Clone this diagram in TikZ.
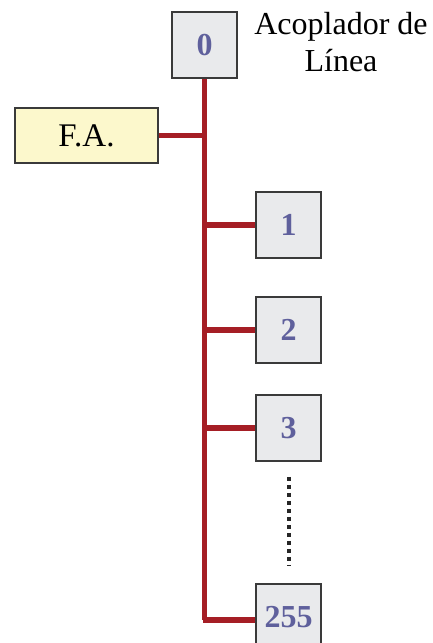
\documentclass[tikz,border=0pt]{standalone}
\usepackage{fontspec}
\setmainfont{Liberation Serif}
\usetikzlibrary{calc,positioning,backgrounds}
\definecolor{busred}{HTML}{A51E25}
\definecolor{boxgray}{HTML}{E9EAEC}
\definecolor{boxline}{HTML}{3A3A3A}
\definecolor{numblue}{HTML}{5F609C}
\definecolor{fayellow}{HTML}{FCF8CC}
\tikzset{
    dev/.style={draw=boxline,line width=1.5pt,fill=boxgray,minimum width=65pt,
                minimum height=66pt,inner sep=0pt,text=numblue,
                font=\fontsize{32}{36}\selectfont\bfseries},
    bus/.style={busred,line width=5.5pt},
}
\begin{document}
\begin{tikzpicture}[x=1pt,y=1pt]
            \useasboundingbox (0,0) rectangle (433,-643);
                % line coupler and power supply
                \node[dev] (c0) at (204.5,-45) {0};
                \node[draw=boxline,line width=1.2pt,fill=fayellow,minimum width=143pt,
                      minimum height=55pt,inner sep=0pt,font=\fontsize{33}{36}\selectfont]
                      (fa) at (86.5,-135.5) {F.A.};
                \node[anchor=north,align=center,inner sep=0pt,font=\fontsize{32}{37}\selectfont]
                      (lbl) at (341,-12) {Acoplador de\\Línea};

                % devices on the line
                \node[dev] (c1) at (288.5,-225) {1};
                \node[dev] (c2) at (288.5,-330) {2};
                \node[dev] (c3) at (288.5,-428) {3};
                \node[dev] (c255) at (288.5,-617) {255};

                % bus, kept behind the boxes
                \begin{scope}[on background layer]
                \coordinate (busend) at (205.5,-620);
                \draw[bus] (c0.south) -- (c0.south |- busend);
                \draw[bus] (fa.east) -- (fa.east -| busend);
                \draw[bus] (c1.west) -- (c1.west -| busend);
                \draw[bus] (c2.west) -- (c2.west -| busend);
                \draw[bus] (c3.west) -- (c3.west -| busend);
                \draw[bus] (c255.west |- busend) -- ([xshift=-2.75pt]busend);
                \end{scope}

                \draw[line width=4pt,dash pattern=on 4pt off 4pt,black!85]
                    ($(c3.south)+(0,-15)$) -- ($(c255.north)+(0,17)$);
            \end{tikzpicture}
\end{document}
